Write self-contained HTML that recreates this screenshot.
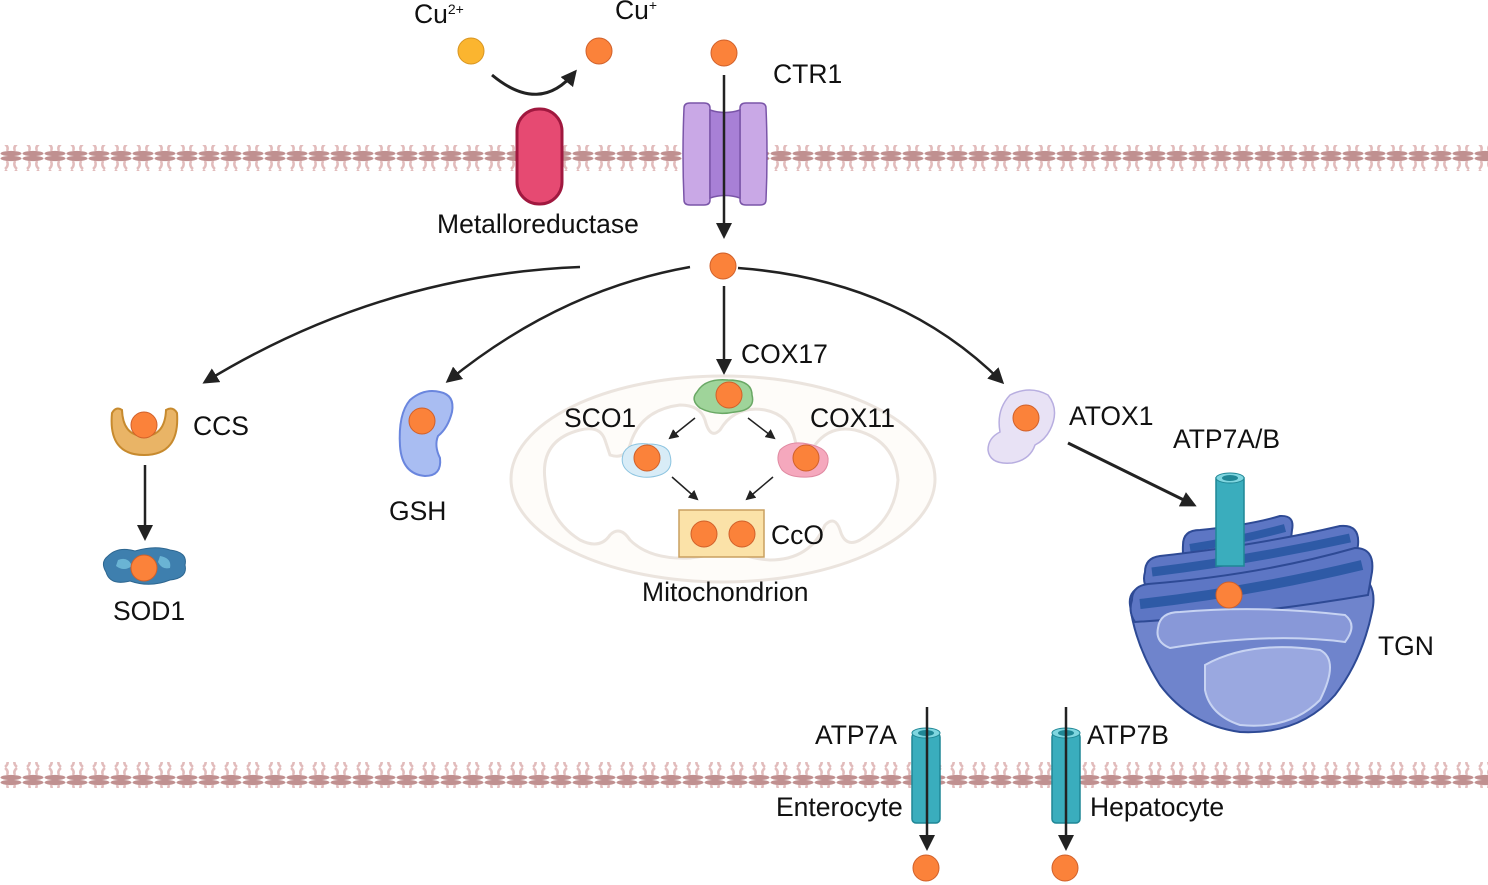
<!DOCTYPE html>
<html><head><meta charset="utf-8"><style>
html,body{margin:0;padding:0;background:#fff}
svg{display:block}
text{font-family:"Liberation Sans",Arial,sans-serif;font-size:26.5px;fill:#111}
</style></head><body>
<svg width="1488" height="885" viewBox="0 0 1488 885" xmlns="http://www.w3.org/2000/svg">
<defs>
<pattern id="mem" x="0" y="0" width="22" height="26" patternUnits="userSpaceOnUse">
<ellipse cx="11" cy="2.5" rx="10.5" ry="2.6" fill="#c09090"/>
<path d="M7 5 Q9 10 5 13 M15 5 Q13 10 17 13" stroke="#e2bcbc" stroke-width="2.5" fill="none"/>
<path d="M5 14 Q9 17 7 21 M17 14 Q13 17 15 21" stroke="#e2bcbc" stroke-width="2.5" fill="none"/>
<ellipse cx="11" cy="23.5" rx="10.5" ry="2.6" fill="#c09090"/>
</pattern>
<marker id="ah" markerWidth="10" markerHeight="10" refX="8" refY="5" orient="auto" markerUnits="userSpaceOnUse"><path d="M0,0 L10,5 L0,10 z" fill="#222"/></marker>
<marker id="ahb" markerWidth="16" markerHeight="16" refX="13" refY="8" orient="auto" markerUnits="userSpaceOnUse"><path d="M0,0 L16,8 L0,16 z" fill="#222"/></marker>
</defs>
<rect x="0" y="145" width="1488" height="26" fill="url(#mem)"/>
<rect x="0" y="762" width="1488" height="26" fill="url(#mem)"/>

<text x="414" y="23">Cu<tspan font-size="14" dy="-9">2+</tspan></text>
<text x="615" y="19">Cu<tspan font-size="14" dy="-9">+</tspan></text>
<circle cx="471" cy="51" r="13" fill="#fbb52f" stroke="#d89520"/>
<circle cx="599" cy="51" r="13" fill="#fb823a" stroke="#d0602a"/>
<circle cx="724" cy="53" r="13" fill="#fb823a" stroke="#d0602a"/>
<path d="M492 75 Q540 115 575 72" stroke="#222" stroke-width="3" fill="none" marker-end="url(#ahb)"/>
<rect x="517" y="109" width="45" height="95" rx="22" fill="#e64a72" stroke="#a0183f" stroke-width="3"/>
<text x="437" y="233">Metalloreductase</text>
<path d="M684 108 Q684 103 690 103 L704 103 Q710 103 710 108 L710 200 Q710 205 704 205 L690 205 Q684 205 684 200 Q682 154 684 108z" fill="#c9a8e6" stroke="#7a55a8" stroke-width="1.5"/>
<path d="M740 108 Q740 103 746 103 L760 103 Q766 103 766 108 Q768 154 766 200 Q766 205 760 205 L746 205 Q740 205 740 200 z" fill="#c9a8e6" stroke="#7a55a8" stroke-width="1.5"/>
<path d="M710 110 Q725 115 740 110 L740 198 Q725 193 710 198 z" fill="#a880d6" stroke="#7a55a8" stroke-width="1.5"/>
<line x1="724" y1="75" x2="724" y2="236" stroke="#222" stroke-width="2.5" marker-end="url(#ahb)"/>
<text x="773" y="83">CTR1</text>
<circle cx="723" cy="266" r="13" fill="#fb823a" stroke="#d0602a"/>

<path d="M580 267 Q380 275 205 382" stroke="#222" stroke-width="2.5" fill="none" marker-end="url(#ahb)"/>
<path d="M690 267 Q560 290 448 381" stroke="#222" stroke-width="2.5" fill="none" marker-end="url(#ahb)"/>
<line x1="724" y1="286" x2="724" y2="372" stroke="#222" stroke-width="2.5" marker-end="url(#ahb)"/>
<path d="M738 268 Q900 280 1002 382" stroke="#222" stroke-width="2.5" fill="none" marker-end="url(#ahb)"/>
<text x="741" y="363">COX17</text>

<path d="M112 413 Q108 455 144 455 Q180 455 177 413 Q173 406 166 410 Q165 436 144 436 Q123 436 122 410 Q116 406 112 413z" fill="#e9b466" stroke="#c78a2e" stroke-width="2"/>
<circle cx="144" cy="425" r="13" fill="#fb823a" stroke="#d0602a"/>
<text x="193" y="435">CCS</text>
<line x1="145" y1="465" x2="145" y2="538" stroke="#222" stroke-width="2.5" marker-end="url(#ahb)"/>
<path d="M108 556 Q118 546 135 551 Q155 545 170 550 Q188 552 185 565 Q188 578 170 580 Q150 588 130 581 Q110 586 106 572 Q100 562 108 556z" fill="#3e7fae" stroke="#2d6690"/>
<path d="M118 560 Q128 556 132 566 Q124 572 116 566z M160 556 Q172 558 170 568 Q162 570 158 562z" fill="#6ab4d4"/>
<circle cx="144" cy="568" r="13" fill="#fb823a" stroke="#d0602a"/>
<text x="113" y="620">SOD1</text>

<path d="M440 392 Q455 395 452 412 Q448 428 438 436 Q434 446 440 458 Q442 476 425 476 Q402 474 400 446 Q398 414 410 400 Q424 388 440 392z" fill="#a9bdf2" stroke="#6a86de" stroke-width="2"/>
<circle cx="422" cy="421" r="13" fill="#fb823a" stroke="#d0602a"/>
<text x="389" y="520">GSH</text>

<ellipse cx="723" cy="479" rx="212" ry="103" fill="#fefcf9" stroke="#ebe4de" stroke-width="3"/>
<path d="M545 480 Q540 440 580 430 Q600 425 605 440 L610 455 Q625 460 630 445 Q640 410 680 405 Q700 405 705 420 Q710 440 720 430 Q735 405 765 410 Q790 415 795 440 Q800 460 815 445 Q830 425 855 430 Q895 440 898 480 Q895 520 860 540 Q845 548 840 530 Q835 515 825 525 Q810 560 770 560 Q740 558 730 545 Q720 555 690 558 Q650 560 630 540 Q620 525 610 535 Q600 550 580 540 Q548 520 545 480z" fill="#fff" stroke="#ebe4de" stroke-width="3"/>
<path d="M697 392 Q705 378 728 380 Q752 380 752 395 Q756 410 735 412 Q715 416 700 408 Q690 400 697 392z" fill="#9fd49a" stroke="#6aa865" stroke-width="1.5"/>
<circle cx="729" cy="395" r="13" fill="#fb823a" stroke="#d0602a"/>
<path d="M624 452 Q630 442 648 444 Q668 444 670 455 Q674 470 660 475 Q645 480 632 474 Q618 466 624 452z" fill="#d8ecf7" stroke="#8cc4e0"/>
<circle cx="647" cy="458" r="13" fill="#fb823a" stroke="#d0602a"/>
<path d="M780 450 Q790 440 808 444 Q830 448 828 462 Q826 476 808 477 Q790 478 782 470 Q775 460 780 450z" fill="#f5a8bd" stroke="#e08aa2"/>
<circle cx="806" cy="458" r="13" fill="#fb823a" stroke="#d0602a"/>
<text x="564" y="427">SCO1</text>
<text x="810" y="427">COX11</text>
<line x1="695" y1="418" x2="670" y2="438" stroke="#222" stroke-width="1.5" marker-end="url(#ah)"/>
<line x1="748" y1="418" x2="774" y2="438" stroke="#222" stroke-width="1.5" marker-end="url(#ah)"/>
<line x1="672" y1="477" x2="697" y2="499" stroke="#222" stroke-width="1.5" marker-end="url(#ah)"/>
<line x1="773" y1="477" x2="747" y2="499" stroke="#222" stroke-width="1.5" marker-end="url(#ah)"/>
<rect x="679" y="510" width="85" height="47" fill="#fbe2a8" stroke="#c9a060" stroke-width="1.5"/>
<circle cx="704" cy="534" r="13" fill="#fb823a" stroke="#d0602a"/>
<circle cx="742" cy="534" r="13" fill="#fb823a" stroke="#d0602a"/>
<text x="771" y="544">CcO</text>
<text x="642" y="601">Mitochondrion</text>

<path d="M1010 395 Q1030 385 1048 395 Q1060 410 1050 430 Q1045 440 1035 445 Q1030 460 1012 463 Q990 465 988 450 Q988 438 1000 432 Q996 410 1010 395z" fill="#e8e2f5" stroke="#b8aee0" stroke-width="1.5"/>
<circle cx="1026" cy="418" r="13" fill="#fb823a" stroke="#d0602a"/>
<text x="1069" y="425">ATOX1</text>
<line x1="1068" y1="443" x2="1194" y2="505" stroke="#222" stroke-width="3" marker-end="url(#ahb)"/>
<text x="1173" y="448">ATP7A/B</text>

<!-- TGN -->
<path d="M1130 605 Q1128 590 1145 585 L1360 575 Q1378 585 1372 612 Q1362 660 1335 695 Q1300 735 1240 732 Q1190 725 1160 685 Q1135 645 1130 605z" fill="#6f84cc" stroke="#2e4a95" stroke-width="2"/>
<path d="M1183 545 Q1183 530 1200 530 Q1250 525 1280 516 Q1295 515 1292 530 L1290 548 Q1240 560 1188 566 Q1182 560 1183 545z" fill="#5d76c4" stroke="#2e4a95" stroke-width="2"/>
<path d="M1190 548 Q1240 540 1285 528" stroke="#2e5aa6" stroke-width="8" fill="none"/>
<path d="M1145 572 Q1145 558 1160 556 Q1260 545 1340 526 Q1360 524 1358 545 L1355 565 Q1250 585 1148 590 Q1142 582 1145 572z" fill="#5d76c4" stroke="#2e4a95" stroke-width="2"/>
<path d="M1152 572 Q1250 560 1350 538" stroke="#2e5aa6" stroke-width="9" fill="none"/>
<path d="M1132 600 Q1132 586 1148 584 Q1260 575 1355 548 Q1375 548 1372 572 L1368 595 Q1250 615 1135 622 Q1128 612 1132 600z" fill="#5d76c4" stroke="#2e4a95" stroke-width="2"/>
<path d="M1140 604 Q1250 592 1362 565" stroke="#2e5aa6" stroke-width="10" fill="none"/>
<path d="M1158 628 Q1160 612 1180 612 Q1260 605 1345 615 Q1358 625 1345 642 Q1270 632 1170 648 Q1155 642 1158 628z" fill="#8898d8" stroke="#c7d3f2" stroke-width="2"/>
<path d="M1205 665 Q1250 640 1320 650 Q1340 660 1320 700 Q1290 730 1240 725 Q1210 715 1205 690z" fill="#9aa8e0" stroke="#c7d3f2" stroke-width="2"/>
<rect x="1216" y="478" width="28" height="88" fill="#3aadbd" stroke="#1f8796" stroke-width="1.5"/>
<ellipse cx="1230" cy="478" rx="14" ry="5" fill="#7fd6e0" stroke="#1f8796"/>
<ellipse cx="1230" cy="478" rx="8" ry="3" fill="#1f8796"/>
<circle cx="1229" cy="595" r="13" fill="#fb823a" stroke="#d0602a"/>
<text x="1378" y="655">TGN</text>

<rect x="912" y="733" width="28" height="90" rx="4" fill="#3aadbd" stroke="#1f8796" stroke-width="1.5"/>
<ellipse cx="926" cy="733" rx="14" ry="5" fill="#7fd6e0" stroke="#1f8796"/>
<ellipse cx="926" cy="733" rx="8" ry="3" fill="#1f8796"/>
<rect x="1052" y="733" width="28" height="90" rx="4" fill="#3aadbd" stroke="#1f8796" stroke-width="1.5"/>
<ellipse cx="1066" cy="733" rx="14" ry="5" fill="#7fd6e0" stroke="#1f8796"/>
<ellipse cx="1066" cy="733" rx="8" ry="3" fill="#1f8796"/>
<line x1="927" y1="707" x2="927" y2="848" stroke="#222" stroke-width="2.5" marker-end="url(#ahb)"/>
<line x1="1066" y1="707" x2="1066" y2="848" stroke="#222" stroke-width="2.5" marker-end="url(#ahb)"/>
<circle cx="926" cy="868" r="13" fill="#fb823a" stroke="#d0602a"/>
<circle cx="1065" cy="868" r="13" fill="#fb823a" stroke="#d0602a"/>
<text x="815" y="744">ATP7A</text>
<text x="1087" y="744">ATP7B</text>
<text x="776" y="816">Enterocyte</text>
<text x="1090" y="816">Hepatocyte</text>
</svg>
</body></html>
